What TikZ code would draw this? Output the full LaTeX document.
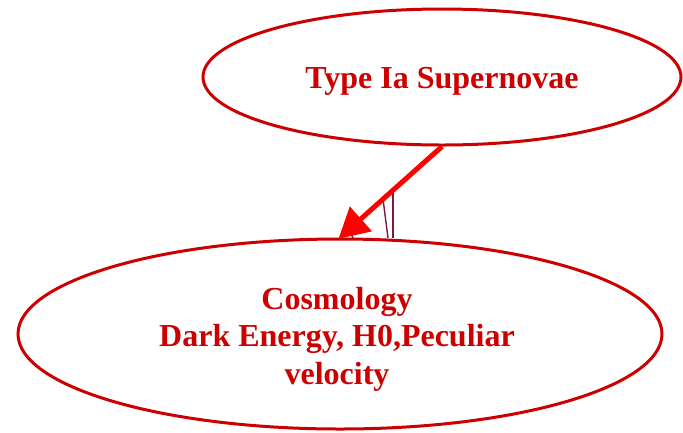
\documentclass[tikz,border=0pt]{standalone}
\usepackage{fontspec}
\setmainfont{Liberation Serif}
\usetikzlibrary{shapes.geometric,arrows.meta}
\definecolor{nodered}{HTML}{CC0000}
\definecolor{thinpurple}{HTML}{7A1A45}
\tikzset{
  ell/.style={ellipse, draw=nodered, line width=3pt, inner sep=0pt},
  lbl/.style={text=nodered, inner sep=0pt, align=center,
    font=\fontsize{32}{37.5}\selectfont\bfseries},
  bigarrow/.style={draw=red, line width=5pt, -{Triangle[length=30pt,width=32pt]}, shorten >=-2pt},
  thinline/.style={draw=thinpurple, line width=1.4pt}
}
\begin{document}
\begin{tikzpicture}[x=1pt,y=-1pt]
\useasboundingbox (0,0) rectangle (683,432);
\node[ell, minimum width=478pt, minimum height=136pt] (top) at (442,77) {};
\node[ell, minimum width=644pt, minimum height=190pt] (bot) at (340,334) {};
\node[lbl] (toplbl) at (442,81) {Type Ia Supernovae};
\node[lbl] (botlbl) at (337,339) {Cosmology\\Dark Energy, H0,Peculiar\\velocity};
\coordinate (a1) at (383,199);
\coordinate (a2) at (388,238);
\coordinate (b1) at (393,192);
\coordinate (b2) at (393,238);
\coordinate (c1) at (350,232);
\coordinate (c2) at (353,238);
\draw[thinline] (a1) -- (a2);
\draw[thinline] (b1) -- (b2);
\draw[thinline] (c1) -- (c2);
\draw[bigarrow] (top.south) -- (bot.north);
\end{tikzpicture}
\end{document}
